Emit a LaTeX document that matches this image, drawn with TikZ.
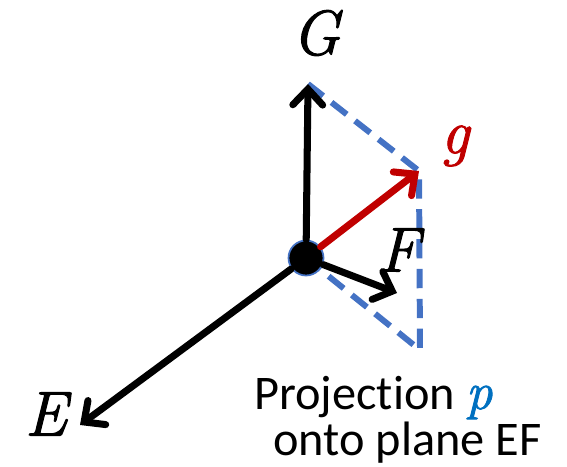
\RequirePackage{fix-cm}
\documentclass[tikz,border=0pt]{standalone}
\usepackage{fontspec}
\setmainfont[Ligatures=NoCommon]{Carlito}
\newfontfamily\etichfont[ItalicFeatures={FakeBold=1.6}]{Latin Modern Roman}
\usetikzlibrary{arrows.meta, positioning}
\definecolor{bluproj}{HTML}{4472C4}
\definecolor{rossog}{HTML}{C00000}
\definecolor{blup}{HTML}{0070C0}

\begin{document}
\begin{tikzpicture}[
  x=0.02cm, y=-0.02cm,
  vettore/.style={line width=4pt, line cap=round,
                  -{Straight Barb[length=9pt, width=17pt, line width=4pt, line cap=round]}},
  proiez/.style={draw=bluproj, line width=3.4pt, dash pattern=on 11pt off 6pt},
  etich/.style={font=\fontsize{36}{40}\etichfont\itshape, inner sep=0pt},
  testo/.style={font=\fontsize{27.5}{32}\selectfont, inner sep=0pt, anchor=base west}
]
\useasboundingbox (0,0) rectangle (567,466);

%--------------------------------------------------------------
% Origine e punte dei vettori
%--------------------------------------------------------------
\node[circle, fill=black, draw=bluproj, line width=1pt, minimum size=0.7cm,
      inner sep=0pt] (origine) at (306,258) {};
\coordinate (puntaG) at (308,84);
\coordinate (puntag) at (419,171);
\coordinate (puntaF) at (397,293);
\coordinate (puntaE) at (80,425);
\coordinate (angoloP) at (420,350);

%--------------------------------------------------------------
% Piano di proiezione (tratteggiato)
%--------------------------------------------------------------
\draw[proiez] (puntaG) -- (puntag) -- (angoloP) -- (origine);

%--------------------------------------------------------------
% Vettori
%--------------------------------------------------------------
\draw[vettore] (origine) -- (puntaG);
\draw[vettore] (origine) -- (puntaF);
\draw[vettore] (origine) -- (puntaE);
\draw[vettore, rossog] (origine) -- (puntag);

%--------------------------------------------------------------
% Etichette
%--------------------------------------------------------------
\node[etich] (labG) at (316,33) {G};
\node[etich, text=rossog] (labg) at (455,146) {g};
\node[etich] (labF) at (399,250) {F};
\node[etich] (labE) at (46,414) {E};

\node[testo] (proiezione) at (254,409) {Projection \textcolor{blup}{\fontsize{30}{32}\etichfont\itshape p}};
\node[testo] (piano) at (273,455) {onto plane EF};

\end{tikzpicture}
\end{document}
